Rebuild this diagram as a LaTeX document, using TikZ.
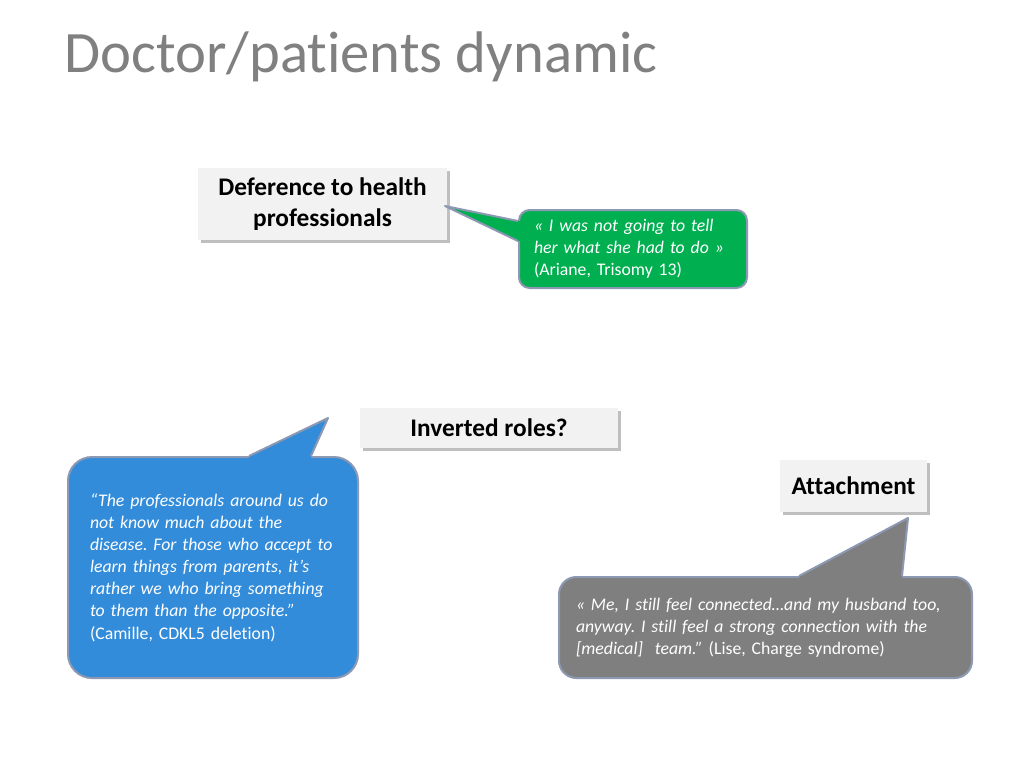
\documentclass[tikz,border=0pt]{standalone}
\usepackage{fontspec}
\setmainfont{Carlito}[Ligatures={TeX,NoCommon}]
\usetikzlibrary{shadows, calc}

\definecolor{titlegray}{HTML}{808080}
\definecolor{boxfill}{HTML}{F2F2F2}
\definecolor{greenfill}{HTML}{00B050}
\definecolor{bluefill}{HTML}{338CDA}
\definecolor{grayfill}{HTML}{7F7F7F}
\definecolor{rim}{HTML}{8D98B2}

\begin{document}
\frenchspacing
\begin{tikzpicture}[x=0.75pt, y=-0.75pt,
  every node/.style={inner sep=0pt},
  head/.style={fill=boxfill, align=center, font=\fontsize{19}{23}\selectfont\bfseries,
    drop shadow={shadow xshift=2pt, shadow yshift=-2pt, opacity=0.25, fill=black}},
  quote/.style={draw=rim, line width=1.5pt, align=left, text=white,
    font=\fontsize{13.3}{16.6}\selectfont},
  rimline/.style={draw=rim, line width=1.5pt, line join=round}]

  \useasboundingbox[fill=white] (0,0) rectangle (1024,768);

  % title
  \node[anchor=base west, text=titlegray, font=\fontsize{44}{48}\selectfont] (title)
    at (64,72) {Doctor/patients dynamic};

  % heading boxes
  \node[head, minimum width=186.75pt, minimum height=54pt] (defer) at (322.5,204)
    {Deference to health\\professionals};
  \node[head, minimum width=193.5pt, minimum height=30pt] (invert) at (489,428)
    {Inverted roles?};
  \node[head, minimum width=110.25pt, minimum height=39pt] (attach) at (853.5,486)
    {Attachment};

  % green quote
  \node[quote, fill=greenfill, rounded corners=8pt, inner xsep=11.25pt, text width=148.5pt,
    minimum height=58.5pt] (ariane) at (633,249)
    {\textit{« I was not going to tell}\\\textit{her what she had to do »}\\(Ariane, Trisomy 13)};
  \coordinate (arianetip) at (445,206);
  \coordinate (arianeA) at ($(ariane.north west)+(0,12)$);
  \coordinate (arianeB) at ($(ariane.north west)+(0,32)$);
  \fill[greenfill] (arianetip) -- (arianeA) -- ++(4,0) -- ($(arianeB)+(4,0)$) -- (arianeB) -- cycle;
  \draw[rimline] (arianeA) -- (arianetip) -- (arianeB);

  % blue quote
  \node[quote, fill=bluefill, rounded corners=18pt, inner xsep=16.5pt, text width=184.5pt,
    minimum height=165.75pt] (camille) at (213,567.5)
    {\textit{“The professionals around us do}\\
     \textit{not know much about the}\\
     \textit{disease. For those who accept to}\\
     \textit{learn things from parents, it’s}\\
     \textit{rather we who bring something}\\
     \textit{to them than the opposite.”}\\
     (Camille, CDKL5 deletion)};
  \coordinate (camilletip) at (328,418);
  \coordinate (camilleA) at ($(camille.north west)+(182,0)$);
  \coordinate (camilleB) at ($(camille.north west)+(244,0)$);
  \fill[bluefill] (camilletip) -- (camilleA) -- ++(0,4) -- ($(camilleB)+(0,4)$) -- (camilleB) -- cycle;
  \draw[rimline] (camilleA) -- (camilletip) -- (camilleB);

  % gray quote
  \node[quote, fill=grayfill, rounded corners=13pt, inner xsep=12.75pt, text width=284.25pt,
    minimum height=75.75pt] (lise) at (765.5,627.5)
    {\textit{« Me, I still feel connected…and my husband too,}\\
     \textit{anyway. I still feel a strong connection with the}\\
     \textit{[medical]\ \ team.”} (Lise, Charge syndrome)};
  \coordinate (lisetip) at (908,518);
  \coordinate (liseA) at ($(lise.north west)+(241,0)$);
  \coordinate (liseB) at ($(lise.north west)+(344,0)$);
  \fill[grayfill] (lisetip) -- (liseA) -- ++(0,4) -- ($(liseB)+(0,4)$) -- (liseB) -- cycle;
  \draw[rimline] (liseA) -- (lisetip) -- (liseB);

\end{tikzpicture}
\end{document}
